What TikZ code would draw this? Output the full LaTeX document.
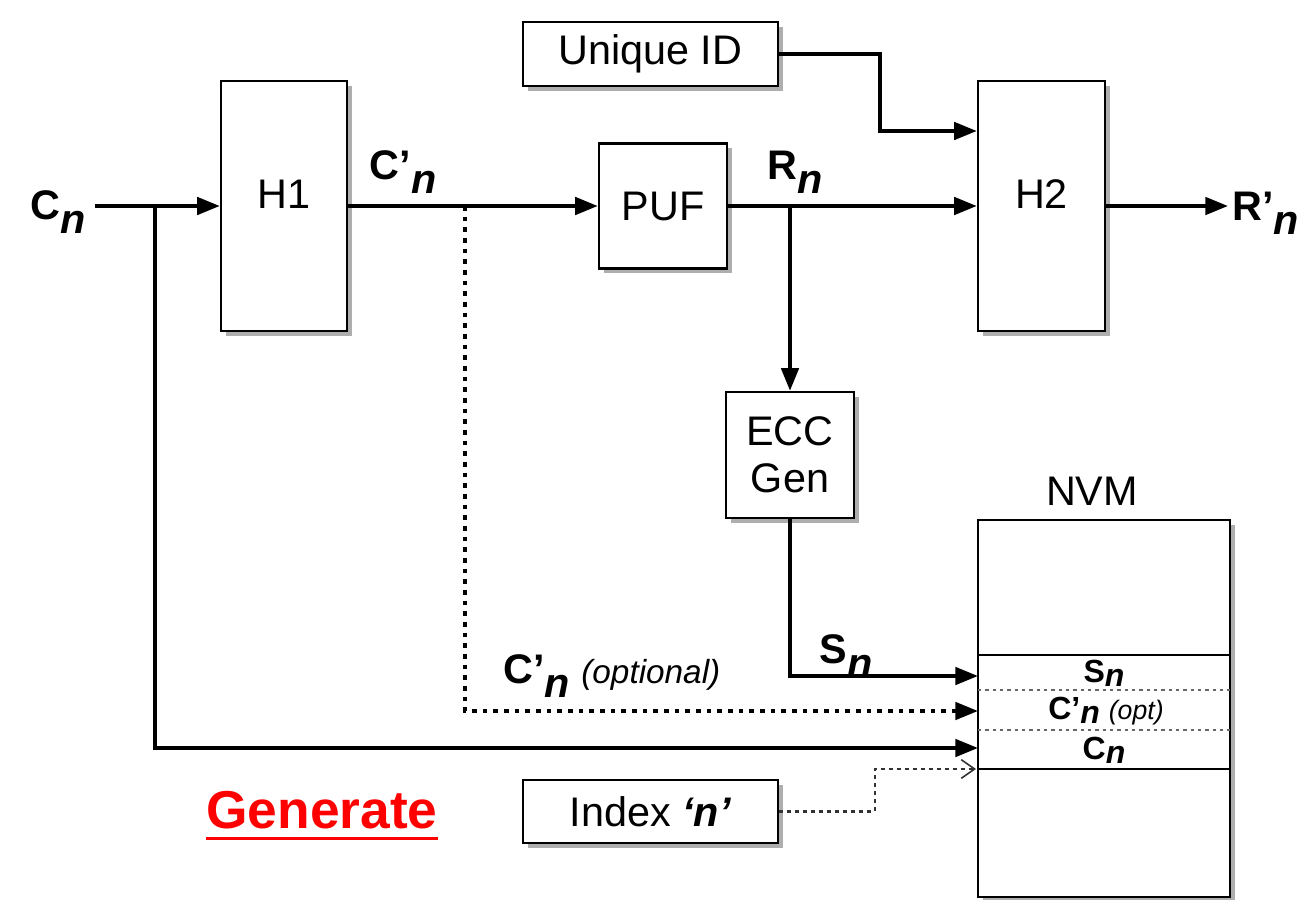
\documentclass[tikz,border=0pt]{standalone}
\usepackage{fontspec}
\setmainfont{Liberation Sans}
\usetikzlibrary{arrows.meta,shadows,calc}
\newcommand{\nsub}{\raisebox{-0.33em}{\textbf{\textit{n}}}}
\newcommand{\nsubs}{\raisebox{-0.12em}{\textbf{\textit{n}}}}
\begin{document}
\begin{tikzpicture}[x=0.75pt,y=-0.75pt,
  box/.style={draw=black, line width=1.8pt, fill=white, align=center, inner sep=0pt,
    font=\fontsize{31}{37}\selectfont,
    drop shadow={shadow xshift=3.5pt, shadow yshift=-3.5pt, opacity=0.45, fill=black!70}},
  lbl/.style={inner sep=0pt, font=\fontsize{31}{37}\selectfont},
  smalllbl/.style={inner sep=0pt, font=\fontsize{24}{29}\selectfont},
  arr/.style={line width=2.8pt, -{Triangle[length=17pt,width=13pt]}},
  optarr/.style={line width=2.8pt, dash pattern=on 3.5pt off 4.5pt, -{Triangle[length=17pt,width=13pt]}},
  idxarr/.style={line width=1.8pt, draw=black!80, dash pattern=on 3pt off 3pt, -{Straight Barb[length=10pt,width=14pt,line width=1.2pt]}},
  sep/.style={line width=1.5pt},
  dsep/.style={line width=1.5pt, draw=black!60, dash pattern=on 2.5pt off 3pt}
]
\useasboundingbox (0,0) rectangle (1304,900);

% boxes
\node[box, minimum width=191.25pt, minimum height=48pt] (uid) at (650.5,54) {Unique ID};
\node[box, minimum width=94.5pt, minimum height=187.5pt] (h1) at (284,206) {};
\node[lbl] at (284,194) {H1};
\node[box, minimum width=96pt, minimum height=93.75pt] (puf) at (663,206) {PUF};
\node[box, minimum width=95.25pt, minimum height=187.5pt] (h2) at (1041.5,206) {};
\node[lbl] at (1041.5,194) {H2};
\node[box, minimum width=96pt, minimum height=94.5pt] (ecc) at (790,455) {ECC\\[-2pt]Gen};
\node[box, minimum width=189pt, minimum height=282.75pt] (nvm) at (1104,708.5) {};
\node[box, minimum width=191.25pt, minimum height=47.25pt] (idx) at (650.5,811.5) {Index \textbf{\textit{‘n’}}};

% NVM separators
\draw[sep] (978,655) -- (1230,655);
\draw[dsep] (978,690) -- (1230,690);
\draw[dsep] (978,730) -- (1230,730);
\draw[sep] (978,769) -- (1230,769);

% labels
\node[lbl] (lcn) at (58,212) {\textbf{C}\nsub};
\node[lbl] (lcp) at (403,172) {\textbf{C’}\nsub};
\node[lbl] (lrn) at (795,172) {\textbf{R}\nsub};
\node[lbl, anchor=west] (lrp) at (1232,213) {\textbf{R’}\nsub};
\node[lbl] (lsn) at (846,656) {\textbf{S}\nsub};
\node[lbl, anchor=west] (lcpo) at (503,676) {\textbf{C’}\nsub\ {\fontsize{25}{30}\selectfont\textit{(optional)}}};
\node[lbl] (lnvm) at (1092,491) {NVM};
\node[smalllbl] (isn) at (1104,673) {\textbf{S}\nsubs};
\node[smalllbl] (icp) at (1106,711) {\textbf{C’}\nsubs\ {\fontsize{20}{24}\selectfont\textit{(opt)}}};
\node[smalllbl] (icn) at (1104,750) {\textbf{C}\nsubs};

\node[inner sep=0pt, text=red, font=\bfseries\fontsize{40}{46}\selectfont] (gen) at (322,810) {Generate};
\draw[red, line width=2.5pt] ($(gen.base west)+(0,10)$) -- ($(gen.base east)+(0,10)$);

% coordinates
\coordinate (cs) at (95,206);
\coordinate (j1) at (155,206);
\coordinate (j2) at (465,206);
\coordinate (j3) at (790,206);
\coordinate (ku) at (880,131);
\coordinate (rpe) at (1228,206);
\coordinate (nS) at (978,676);
\coordinate (nCp) at (978,711);
\coordinate (nC) at (978,748);
\coordinate (ki) at (875,769);
\coordinate (nI) at (976,769);

% connectors
\draw[arr] (cs) -- (h1.west);
\draw[arr] (j1) |- (nC);
\draw[arr] (h1.east) -- (puf.west);
\draw[optarr] (j2) |- (nCp);
\draw[arr] (puf.east) -- (h2.west);
\draw[arr] (j3) -- (ecc.north);
\draw[arr] (ecc.south) |- (nS);
\draw[arr] (uid.east) -| (ku) -- (ku -| h2.west);
\draw[arr] (h2.east) -- (rpe);
\draw[idxarr] (idx.east) -| (ki) -- (nI);
\end{tikzpicture}
\end{document}
